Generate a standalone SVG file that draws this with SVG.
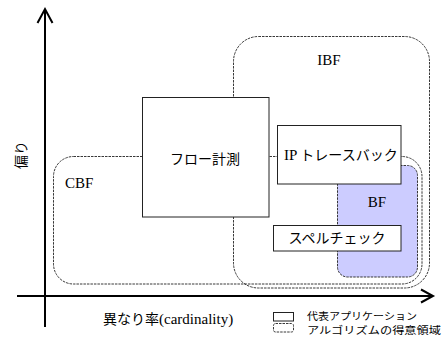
<svg xmlns="http://www.w3.org/2000/svg" width="442" height="338" viewBox="0 0 442 338">
<style>
.area{fill:none;stroke:#222;stroke-width:0.9;stroke-dasharray:2.5 1}
.app{fill:#fff;stroke:#222;stroke-width:1}
.jp{font-family:"Noto Sans CJK JP","Noto Sans",sans-serif;font-size:14px;fill:#000}
.lat{font-family:"Liberation Serif",serif;font-size:15px;fill:#000}
.leg{font-family:"Noto Sans CJK JP","Noto Sans",sans-serif;font-size:10px;fill:#000}
.axis{fill:none;stroke:#000;stroke-width:2}
</style>
<rect width="442" height="338" fill="#fff"/>
<g id="connectors">
<line class="axis" x1="45" y1="9" x2="45" y2="327"/>
<polyline class="axis" points="37.5,23 45,9 52.5,23"/>
<line class="axis" x1="17" y1="296" x2="432" y2="296"/>
<polyline class="axis" points="421,289.5 433,296 421,302.5"/>
</g>
<g id="IBF">
<rect class="area" x="233.5" y="36.5" width="196" height="251.5" rx="25"/>
<text class="lat" x="329" y="65" text-anchor="middle">IBF</text>
</g>
<g id="CBF">
<rect class="area" x="53.5" y="156.5" width="368.5" height="127.5" rx="20"/>
<text class="lat" x="65" y="188">CBF</text>
</g>
<g id="BF">
<rect x="337.5" y="165.5" width="80" height="111.5" rx="10" fill="#ccccff" stroke="#222" stroke-width="0.9" stroke-dasharray="2.5 1"/>
<text class="lat" x="377" y="207" text-anchor="middle">BF</text>
</g>
<g id="flow">
<rect class="app" x="142.5" y="97.5" width="126.5" height="119.5"/>
<text class="jp" x="205" y="164" text-anchor="middle">フロー計測</text>
</g>
<g id="iptrace">
<rect class="app" x="277.5" y="125.5" width="123.5" height="58.5"/>
<text x="284" y="160"><tspan class="lat">IP</tspan><tspan class="jp" dx="3">トレースバック</tspan></text>
</g>
<g id="spell">
<rect class="app" x="273.5" y="225.5" width="127.5" height="25.5"/>
<text class="jp" x="337" y="243" text-anchor="middle">スペルチェック</text>
</g>
<g id="yaxis-label">
<text class="jp" transform="translate(26,155) rotate(-90)" text-anchor="middle">偏り</text>
</g>
<g id="xaxis-label">
<text x="103" y="324"><tspan class="jp">異なり率</tspan><tspan class="lat">(cardinality)</tspan></text>
</g>
<g id="legend">
<rect class="app" x="273.5" y="312.5" width="20" height="8.5"/>
<text class="leg" x="307" y="319.5" textLength="110" lengthAdjust="spacingAndGlyphs">代表アプリケーション</text>
<rect class="area" x="273.5" y="323.5" width="20" height="8.5" rx="2"/>
<text class="leg" x="307" y="334" textLength="134" lengthAdjust="spacingAndGlyphs">アルゴリズムの得意領域</text>
</g>
</svg>
